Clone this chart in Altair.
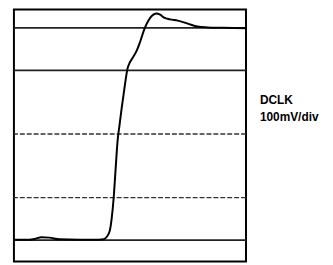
import altair as alt
import pandas as pd

# waveform (time in divisions, level in divisions)
t = [0, 0.47, 0.89, 1.19, 1.53, 1.96, 2.81, 3.66, 3.87, 4.0, 4.13, 4.21, 4.30, 4.38, 4.47,
     4.55, 4.64, 4.72, 4.81, 4.89, 4.98, 5.11, 5.28, 5.45, 5.62, 5.79, 5.96, 6.13, 6.30,
     6.47, 6.72, 7.06, 7.49, 7.91, 8.34, 8.98, 10.0]
v = [0.51, 0.51, 0.53, 0.57, 0.56, 0.52, 0.51, 0.51, 0.52, 0.58, 0.72, 1.0, 1.51, 2.16, 2.86,
     3.21, 3.60, 3.91, 4.26, 4.53, 4.67, 4.79, 4.95, 5.19, 5.47, 5.67, 5.79, 5.84, 5.81,
     5.74, 5.70, 5.67, 5.60, 5.53, 5.51, 5.50, 5.49]

grid_solid = [0.5, 4.5, 5.5]
grid_dotted = [1.5, 3.0]

labels = ["DCLK", "100mV/div"]
label_t = [10.6, 10.6]
label_v = [3.79, 3.40]

wave = pd.DataFrame({"t": t, "v": v})
gs = pd.DataFrame({"v": grid_solid})
gd = pd.DataFrame({"v": grid_dotted})
lab = pd.DataFrame({"t": label_t, "v": label_v, "text": labels})

xs = alt.Scale(domain=[0, 10], nice=False, zero=False)
ys = alt.Scale(domain=[0, 5.93], nice=False, zero=False)

solid = alt.Chart(gs).mark_rule(color="#222222", strokeWidth=1.8).encode(
    y=alt.Y("v:Q", scale=ys, axis=None))
dotted = alt.Chart(gd).mark_rule(color="#333333", strokeWidth=1.3, strokeDash=[5, 2]).encode(
    y=alt.Y("v:Q", scale=ys, axis=None))
line = alt.Chart(wave).mark_line(color="black", strokeWidth=2, interpolate="monotone").encode(
    x=alt.X("t:Q", scale=xs, axis=None),
    y=alt.Y("v:Q", scale=ys, axis=None))
text = alt.Chart(lab).mark_text(align="left", baseline="middle", fontSize=12,
                                 fontWeight="bold", font="Liberation Sans Narrow, Liberation Sans",
                                 color="black", clip=False).encode(
    x=alt.X("t:Q", scale=xs, axis=None),
    y=alt.Y("v:Q", scale=ys, axis=None),
    text="text:N")

chart = alt.layer(solid, dotted, line, text).properties(
    width=235, height=255,
    padding={"left": 6, "top": 0, "right": 80, "bottom": 0},
    autosize=alt.AutoSizeParams(type="none"),
    background="white",
).configure_view(stroke="black", strokeWidth=2)

chart.save("out.html", embed_options={"renderer": "svg", "actions": False})
